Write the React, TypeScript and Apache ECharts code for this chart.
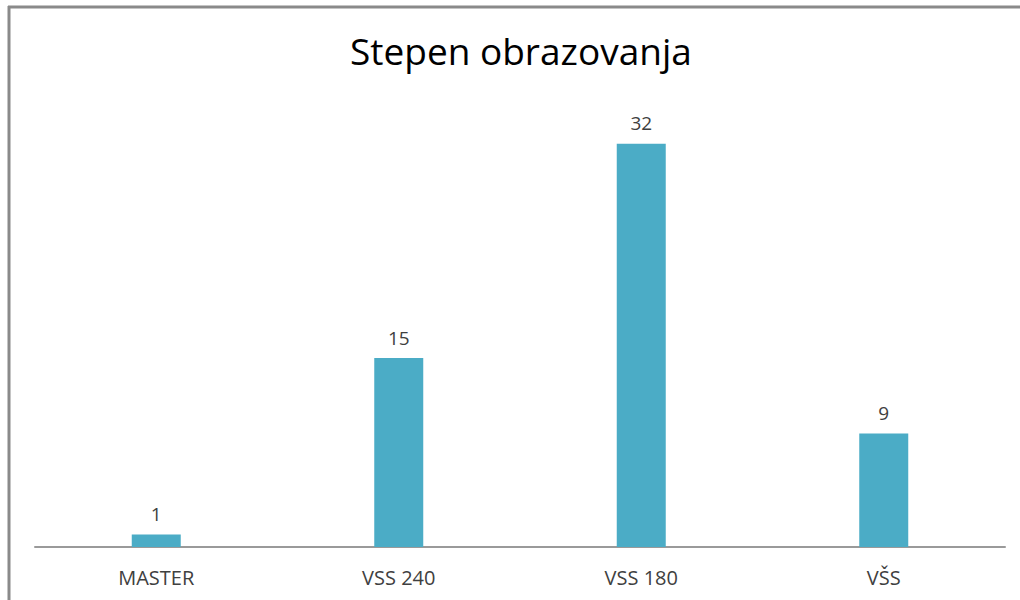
import React, { useEffect, useRef } from "react";
import * as echarts from "echarts";

const titleText = "Stepen obrazovanja";
const categories = ["MASTER", "VSS 240", "VSS 180", "VŠS"];
const values = [1, 15, 32, 9];

export default function App() {
  const ref = useRef<HTMLDivElement>(null);
  useEffect(() => {
    if (!ref.current) return;
    const chart = echarts.init(ref.current, null, { renderer: "svg" });
    const font = "'Open Sans', 'Noto Sans', sans-serif";
    chart.setOption({
      animation: false,
      backgroundColor: "#ffffff",
      title: {
        text: titleText,
        left: 345,
        top: 27,
        textStyle: { fontFamily: font, fontSize: 37, fontWeight: "normal", color: "#000000" },
      },
      graphic: [
        { type: "line", shape: { x1: 8, y1: 7, x2: 1020, y2: 7 }, style: { stroke: "#8a8a8a", lineWidth: 3 } },
        { type: "line", shape: { x1: 9, y1: 6, x2: 9, y2: 600 }, style: { stroke: "#8a8a8a", lineWidth: 3 } },
      ],
      grid: { left: 35, right: 15, top: 106, bottom: 53 },
      xAxis: {
        type: "category",
        data: categories,
        axisLine: { lineStyle: { color: "#9a9a9a", width: 2 } },
        axisTick: { show: false },
        axisLabel: { fontFamily: font, fontSize: 20, color: "#404040", margin: 20 },
      },
      yAxis: {
        type: "value",
        min: 0,
        max: 35,
        show: false,
        splitLine: { show: false },
      },
      series: [
        {
          type: "bar",
          data: values,
          barWidth: 49,
          itemStyle: { color: "#4bacc6" },
          label: {
            show: true,
            position: "top",
            distance: 11,
            fontFamily: font,
            fontSize: 19,
            color: "#404040",
          },
        },
      ],
    });
    return () => chart.dispose();
  }, []);
  return (
    <div
      ref={ref}
      style={{ position: "fixed", left: 0, top: 0, width: 1020, height: 600 }}
    />
  );
}
